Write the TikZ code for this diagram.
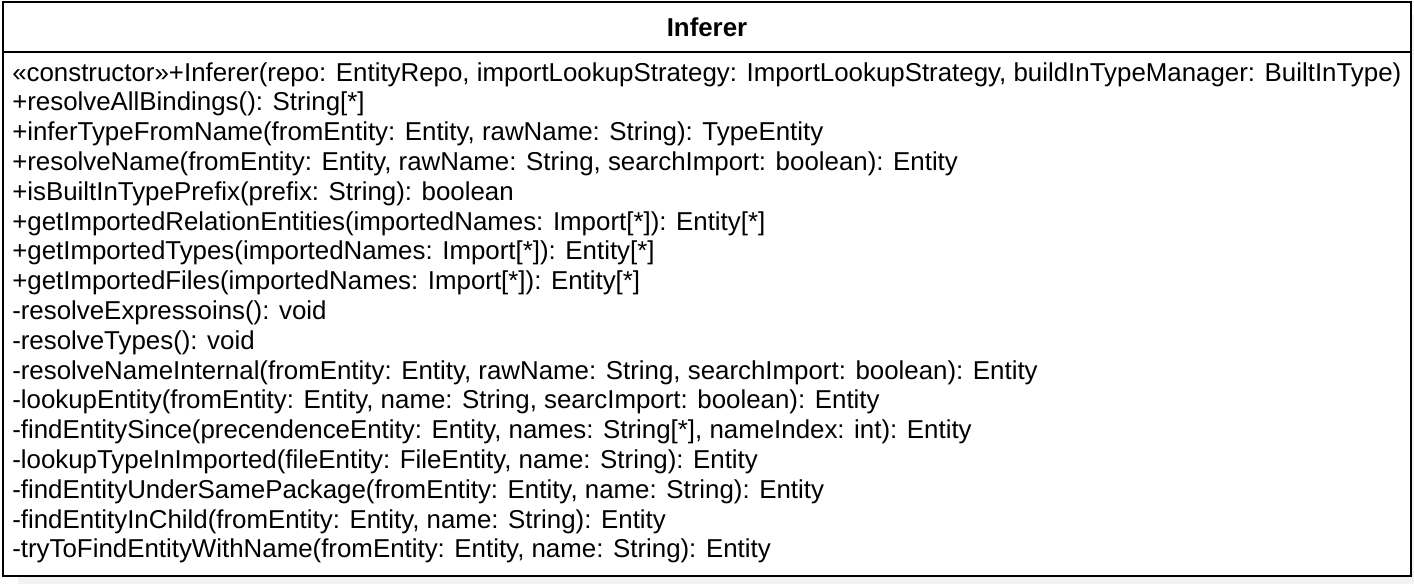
\documentclass[tikz,border=0pt]{standalone}
\usepackage{fontspec}
\setmainfont{Liberation Sans}
\definecolor{shadowgray}{HTML}{F2F2F2}

\begin{document}
\begin{tikzpicture}[x=0.75pt,y=-0.75pt,
  member/.style={anchor=base west,inner sep=0pt,font=\fontsize{19.4}{22}\selectfont},
  classname/.style={anchor=base,inner sep=0pt,font=\fontsize{19.4}{22}\selectfont\bfseries}]
  \useasboundingbox (0,0) rectangle (1414,583);
  \fill[shadowgray] (18,15) rectangle (1426,591);
  \fill[white] (3,2) rectangle (1411,576);
  \draw[line width=1.5pt] (3,2) rectangle (1411,576);
  \draw[line width=1.5pt] (3,52) -- (1411,52);
  \node[classname] (name) at (707,36) {Inferer};
  \foreach \txt [count=\i from 0] in {
    {«constructor»+Inferer(repo: EntityRepo, importLookupStrategy: ImportLookupStrategy, buildInTypeManager: BuiltInType)},
    {+resolveAllBindings(): String[*]},
    {+inferTypeFromName(fromEntity: Entity, rawName: String): TypeEntity},
    {+resolveName(fromEntity: Entity, rawName: String, searchImport: boolean): Entity},
    {+isBuiltInTypePrefix(prefix: String): boolean},
    {+getImportedRelationEntities(importedNames: Import[*]): Entity[*]},
    {+getImportedTypes(importedNames: Import[*]): Entity[*]},
    {+getImportedFiles(importedNames: Import[*]): Entity[*]},
    {-resolveExpressoins(): void},
    {-resolveTypes(): void},
    {-resolveNameInternal(fromEntity: Entity, rawName: String, searchImport: boolean): Entity},
    {-lookupEntity(fromEntity: Entity, name: String, searcImport: boolean): Entity},
    {-findEntitySince(precendenceEntity: Entity, names: String[*], nameIndex: int): Entity},
    {-lookupTypeInImported(fileEntity: FileEntity, name: String): Entity},
    {-findEntityUnderSamePackage(fromEntity: Entity, name: String): Entity},
    {-findEntityInChild(fromEntity: Entity, name: String): Entity},
    {-tryToFindEntityWithName(fromEntity: Entity, name: String): Entity}}
    \node[member] (m\i) at (12,{81+29.8*\i}) {\txt};
\end{tikzpicture}
\end{document}
